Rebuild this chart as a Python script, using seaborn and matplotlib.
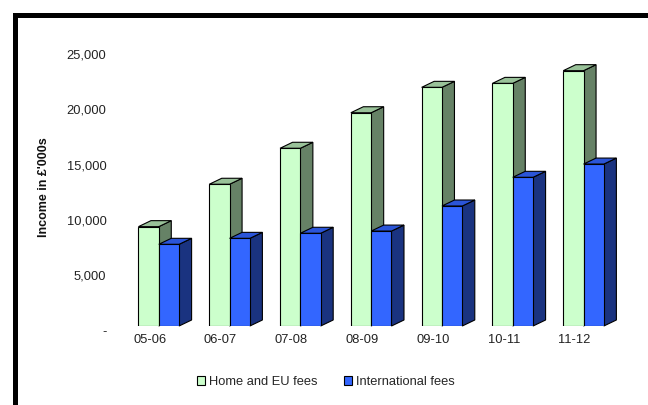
import matplotlib
matplotlib.use("Agg")
import matplotlib.pyplot as plt
import matplotlib.patches as mpatches
import matplotlib.transforms as mtransforms
import numpy as np
import pandas as pd
import seaborn as sns

years = ["05-06", "06-07", "07-08", "08-09", "09-10", "10-11", "11-12"]
home_eu = [9000, 12840, 16100, 19320, 21620, 21980, 23130]
international = [7400, 7940, 8400, 8600, 10870, 13470, 14670]
series_names = ["Home and EU fees", "International fees"]
ytick_vals = [0, 5000, 10000, 15000, 20000, 25000]
ytick_labels = ["-", "5,000", "10,000", "15,000", "20,000", "25,000"]

front_cols = ["#ccffcc", "#3366ff"]
side_cols = ["#668266", "#1a3380"]
top_cols = ["#99c299", "#2b55d8"]

sns.set_theme(style="white")
plt.rcParams["font.family"] = ["Liberation Sans", "DejaVu Sans"]
FS = 9.3

df = pd.DataFrame({
    "Year": years * 2,
    "Income": home_eu + international,
    "Series": [series_names[0]] * len(years) + [series_names[1]] * len(years),
})

W, H = 648, 405
fig = plt.figure(figsize=(W / 100, H / 100), dpi=100)
ax_left, ax_right, ax_bottom, ax_top = 110, 630, 326, 39
ax = fig.add_axes([ax_left / W, 1 - ax_bottom / H, (ax_right - ax_left) / W, (ax_bottom - ax_top) / H])

sns.barplot(data=df, x="Year", y="Income", hue="Series", palette=front_cols,
            width=0.574, ax=ax, legend=False, saturation=1,
            edgecolor="black", linewidth=0.8)

ax.set_xlim(-0.689, 6.656)
ax.set_ylim(0, 26000)

# 3D depth faces
dx_px, dy_px = 12.5, 6.0
n = len(years)
patches = list(ax.patches)
inv = ax.transData.inverted()
for k, p in enumerate(patches):
    s = k // n
    x0, y0 = p.get_x(), p.get_y()
    w, h = p.get_width(), p.get_height()
    (X0, Y0) = ax.transData.transform((x0, y0))
    (X1, Y1) = ax.transData.transform((x0 + w, y0 + h))
    side = [(X1, Y0), (X1 + dx_px, Y0 + dy_px), (X1 + dx_px, Y1 + dy_px), (X1, Y1)]
    top = [(X0, Y1), (X0 + dx_px, Y1 + dy_px), (X1 + dx_px, Y1 + dy_px), (X1, Y1)]
    side_d = inv.transform(side)
    top_d = inv.transform(top)
    z = 2 + 2 * s
    p.set_zorder(z + 1)
    ax.add_patch(mpatches.Polygon(side_d, closed=True, facecolor=side_cols[s],
                                  edgecolor="black", linewidth=0.8, zorder=z, clip_on=False))
    ax.add_patch(mpatches.Polygon(top_d, closed=True, facecolor=top_cols[s],
                                  edgecolor="black", linewidth=0.8, zorder=z, clip_on=False))

for sp in ax.spines.values():
    sp.set_visible(False)

ax.set_yticks(ytick_vals)
ax.set_yticklabels(ytick_labels, fontsize=FS, color="#222222")
ax.tick_params(axis="both", length=0)
ax.tick_params(axis="y", pad=2.5)
ax.tick_params(axis="x", pad=6)
ax.set_xticks(range(n))
ax.set_xticklabels(years, fontsize=FS, color="#222222")
off_y = mtransforms.ScaledTranslation(0, -3 / 72, fig.dpi_scale_trans)
for lab in ax.get_yticklabels():
    lab.set_transform(lab.get_transform() + off_y)
off_x = mtransforms.ScaledTranslation(-6.5 / 72, 0, fig.dpi_scale_trans)
for lab in ax.get_xticklabels():
    lab.set_transform(lab.get_transform() + off_x)

ax.set_xlabel("")
ax.set_ylabel("Income in £'000s", fontsize=9, fontweight="bold", color="#111111")
ax.yaxis.set_label_coords((50 - ax_left) / (ax_right - ax_left), 0.484)

handles = [mpatches.Patch(facecolor=front_cols[i], edgecolor="black", linewidth=0.8,
                          label=series_names[i]) for i in range(2)]
fig.legend(handles=handles, loc="center", bbox_to_anchor=(326 / W, 1 - 382 / H),
           ncol=2, frameon=False, fontsize=FS, handlelength=0.6, handleheight=0.6,
           handletextpad=0.35, columnspacing=2.0)

border = mpatches.Rectangle((15 / W, -0.2), 1.2, 1.2 - 14.5 / H, transform=fig.transFigure,
                            fill=False, edgecolor="black", linewidth=3.6, clip_on=False)
fig.add_artist(border)

fig.savefig("out.png", dpi=100, facecolor="white")
